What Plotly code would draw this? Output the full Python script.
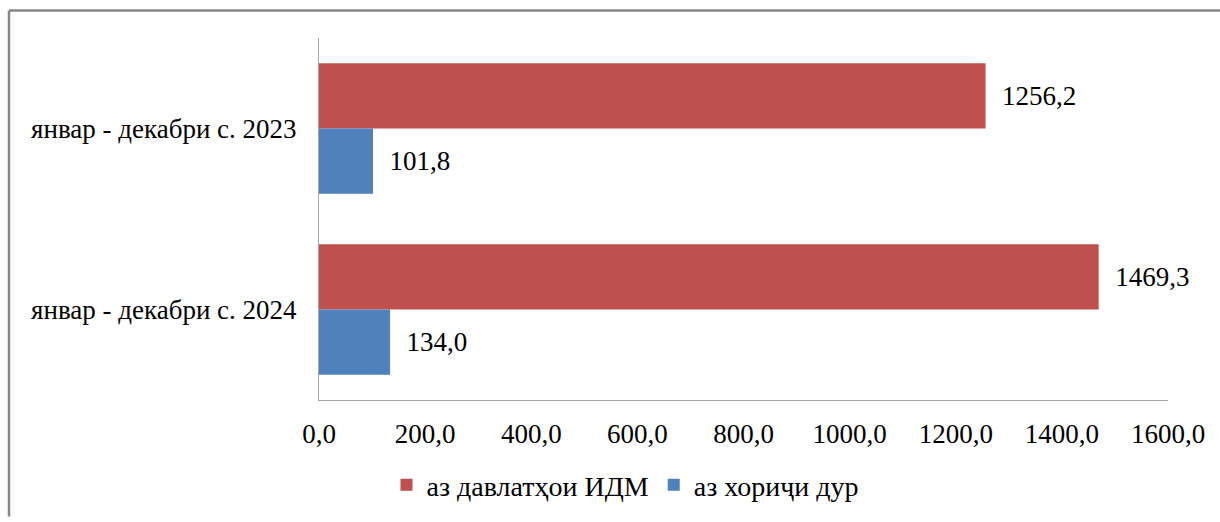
import plotly.graph_objects as go

categories = ["январ - декабри с. 2023", "январ - декабри с. 2024"]
series_names = ["аз давлатҳои ИДМ", "аз хориҷи дур"]
cis_values = [1256.2, 1469.3]
far_values = [101.8, 134.0]
x_ticks = [0, 200, 400, 600, 800, 1000, 1200, 1400, 1600]

colors = ["#C0504D", "#4F81BD"]
FONT = "Liberation Serif, Times New Roman, serif"


def fmt(v):
    return f"{v:.1f}".replace(".", ",")


fig = go.Figure()
for name, vals, col in zip(series_names, [cis_values, far_values], colors):
    fig.add_trace(go.Bar(
        y=categories, x=vals, name=name, orientation="h",
        marker=dict(color=col, line=dict(width=0)),
        text=["  " + fmt(v) for v in vals], textposition="outside",
        textfont=dict(family=FONT, size=27, color="black"),
        cliponaxis=False,
    ))

L, R, T, B = 319, 1168, 38, 408
W, H = 1220, 522
pw, ph = R - L, B - T

border = dict(color="#878787", width=2.5)
fig.update_layout(
    width=W, height=H,
    margin=dict(l=L, r=W - R, t=T, b=H - B, pad=0),
    paper_bgcolor="white", plot_bgcolor="white",
    barmode="group", bargap=0.28, bargroupgap=0,
    separators=", ",
    font=dict(family=FONT, size=27, color="black"),
    showlegend=True,
    legend=dict(orientation="h", x=(625 - L) / pw, xanchor="center",
                y=(B - 495) / ph, yanchor="middle",
                font=dict(family=FONT, size=28, color="black"),
                itemwidth=30, tracegroupgap=0),
    xaxis=dict(range=[0, 1600], tickvals=x_ticks, tickformat=".1f",
               showgrid=False, zeroline=False, showline=True,
               linecolor="#A6A6A6", linewidth=1, ticks="",
               ticklabelstandoff=10,
               tickfont=dict(family=FONT, size=27, color="black")),
    yaxis=dict(autorange="reversed", showgrid=False, showline=True,
               linecolor="#A6A6A6", linewidth=1, ticks="",
               ticklabelstandoff=16,
               tickfont=dict(family=FONT, size=27, color="black")),
    shapes=[
        dict(type="line", xref="paper", yref="paper",
             x0=(9 - L) / pw, x1=(W + 5 - L) / pw,
             y0=(B - 10) / ph, y1=(B - 10) / ph, line=border, layer="below"),
        dict(type="line", xref="paper", yref="paper",
             x0=(9 - L) / pw, x1=(9 - L) / pw,
             y0=(B - 10) / ph, y1=(B - H - 5) / ph, line=border, layer="below"),
    ],
)

fig.write_html(
    "out.html",
    config={"displayModeBar": False},
    post_script="document.body.style.margin='0';document.body.style.overflow='hidden';",
)
